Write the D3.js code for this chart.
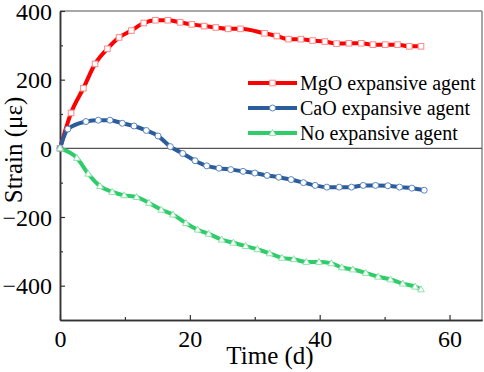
<!DOCTYPE html>
<html><head><meta charset="utf-8">
<script src="https://cdn.jsdelivr.net/npm/d3@7"></script>
<style>html,body{margin:0;padding:0;background:#fff}svg{display:block}text{font-family:"Liberation Serif","Times New Roman",serif}</style>
</head><body>
<svg id="c" width="484" height="372"></svg>
<script>
const mgoT = [0,1.7,3.6,5.4,7.3,9.1,11.0,12.9,14.7,16.6,18.5,20.3,22.2,24.0,25.9,27.8,31.5,33.4,35.2,37.1,38.9,40.8,42.6,44.5,46.4,48.2,50.1,52.0,53.8,55.6];
const mgoV = [0,103,175,246,290,323,343,365,373,373,367,361,356,352,348,348,335,327,318,318,314,311,305,306,306,302,302,302,297,297];
const caoT = [0,1.2,4.0,5.9,7.7,9.6,11.4,13.3,15.1,17.0,18.9,20.8,22.6,24.5,26.3,28.2,30.0,31.9,33.7,35.6,37.5,39.3,41.1,43.0,44.9,46.7,48.6,50.5,52.3,54.2,56.1];
const caoV = [0,56,78,82,82,73,65,52,36,5,-15,-36,-51,-58,-62,-67,-72,-79,-84,-91,-100,-108,-113,-113,-113,-108,-108,-109,-113,-116,-122];
const noT = [0,2.6,4.35,6.15,8.05,9.9,11.8,13.7,15.6,17.4,19.4,21.2,22.9,24.9,26.7,28.6,30.4,32.3,34.2,36.0,37.95,39.9,41.8,43.4,45.1,47.1,49.0,50.9,52.8,54.7,55.6];
const noV = [0,-28,-74,-110,-127,-137,-142,-159,-179,-193,-218,-237,-249,-266,-275,-285,-294,-306,-319,-323,-331,-331,-335,-347,-353,-363,-374,-382,-394,-403,-411];
const seriesNames = ["MgO expansive agent","CaO expansive agent","No expansive agent"];
const xTicks = [0,20,40,60];
const yTicks = [-400,-200,0,200,400];
const xMinor = [10,30,50];
const yMinor = [-300,-100,100,300];

const svg = d3.select("#c");
const L=60,R=482,T=11,B=320;
const x = d3.scaleLinear().domain([0,65]).range([L,R]);
const y = d3.scaleLinear().domain([-500,400]).range([B,T]);

// frame
svg.append("line").attr("x1",L).attr("x2",R).attr("y1",T).attr("y2",T).attr("stroke","#8a8a8a").attr("stroke-width",1.5);
svg.append("line").attr("x1",R).attr("x2",R).attr("y1",T).attr("y2",B).attr("stroke","#8a8a8a").attr("stroke-width",1.5);
// zero line
svg.append("line").attr("x1",L).attr("x2",R).attr("y1",y(0)).attr("y2",y(0)).attr("stroke","#555").attr("stroke-width",1.2);

const axisCol="#333";
const gx = svg.append("g").attr("transform",`translate(0,${B})`)
  .call(d3.axisBottom(x).tickValues(xTicks).tickSizeInner(-5).tickSizeOuter(0).tickPadding(12));
const gxm = svg.append("g").attr("transform",`translate(0,${B})`)
  .call(d3.axisBottom(x).tickValues(xMinor).tickSizeInner(-3).tickSizeOuter(0).tickFormat(""));
const gy = svg.append("g").attr("transform",`translate(${L},0)`)
  .call(d3.axisLeft(y).tickValues(yTicks).tickSizeInner(-5).tickSizeOuter(0).tickPadding(8));
const gym = svg.append("g").attr("transform",`translate(${L},0)`)
  .call(d3.axisLeft(y).tickValues(yMinor).tickSizeInner(-3).tickSizeOuter(0).tickFormat(""));
[gx,gxm,gy,gym].forEach(g=>{
  g.select(".domain").attr("stroke",axisCol).attr("stroke-width",1.5);
  g.selectAll(".tick line").attr("stroke",axisCol).attr("stroke-width",1.2);
  g.selectAll(".tick text").attr("fill","#000").style("font-size","24px").style("font-family",'"Liberation Serif","Times New Roman",serif');
});
gy.selectAll(".tick text").attr("dy","0.34em");
gx.selectAll(".tick text").attr("dy","0.62em");

svg.append("text").attr("x",(L+R)/2-1).attr("y",364).attr("text-anchor","middle")
  .style("font-size","25px").text("Time (d)");
svg.append("text").attr("transform","translate(22,150) rotate(-90)").attr("text-anchor","middle")
  .style("font-size","25px").text("Strain (με)");

const series = [
  {t:mgoT,v:mgoV,line:"#ff0000",mk:"#ff8a8a",shape:"square"},
  {t:caoT,v:caoV,line:"#2c5c9a",mk:"#5b87c2",shape:"circle"},
  {t:noT,v:noV,line:"#2fcc6b",mk:"#8fe3aa",shape:"triangle"}
];
const line = d3.line().x(d=>x(d[0])).y(d=>y(d[1])).curve(d3.curveMonotoneX);
function marker(g,shape,cx,cy,col){
  if(shape==="square") g.append("rect").attr("x",cx-2.8).attr("y",cy-2.8).attr("width",5.6).attr("height",5.6).attr("fill","#fff").attr("stroke",col).attr("stroke-width",1);
  else if(shape==="circle") g.append("circle").attr("cx",cx).attr("cy",cy).attr("r",3).attr("fill","#fff").attr("stroke",col).attr("stroke-width",1);
  else g.append("path").attr("d",`M${cx},${cy-3.6}L${cx+3.4},${cy+2.4}L${cx-3.4},${cy+2.4}Z`).attr("fill","#fff").attr("stroke",col).attr("stroke-width",1);
}
series.forEach(s=>{
  const pts = s.t.map((t,i)=>[t,s.v[i]]);
  svg.append("path").attr("d",line(pts)).attr("fill","none").attr("stroke",s.line).attr("stroke-width",4).attr("stroke-linejoin","round");
});
series.forEach(s=>{
  const g=svg.append("g");
  s.t.forEach((t,i)=>marker(g,s.shape,x(t),y(s.v[i]),s.mk));
});

// legend
seriesNames.forEach((n,i)=>{
  const yy = 83 + i*25;
  svg.append("line").attr("x1",248).attr("x2",297).attr("y1",yy).attr("y2",yy).attr("stroke",series[i].line).attr("stroke-width",4);
  marker(svg,series[i].shape,272.5,yy,series[i].mk);
  svg.append("text").attr("x",300).attr("y",yy+7).style("font-size","20px").text(n);
});
</script>
</body></html>
